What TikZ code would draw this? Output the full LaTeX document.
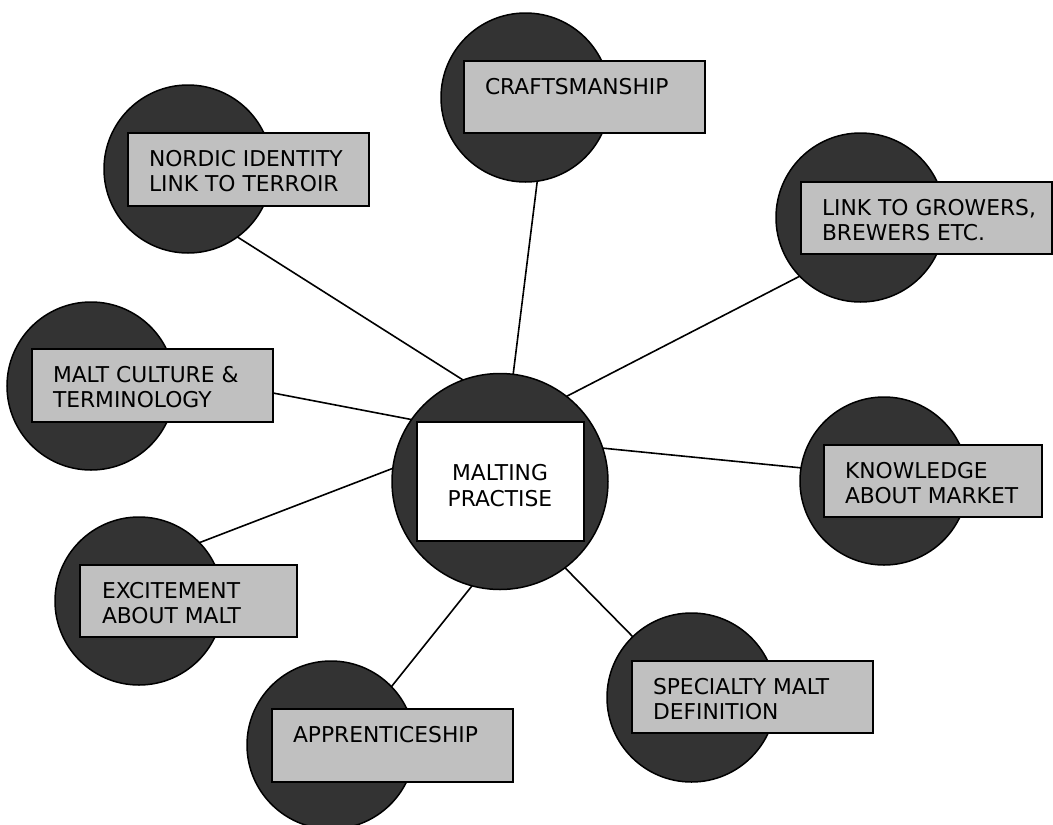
\documentclass[tikz,border=0pt]{standalone}
\usepackage{fontspec}
\setmainfont{DejaVu Sans}
\definecolor{discgray}{RGB}{51,51,51}
\definecolor{boxgray}{RGB}{192,192,192}
\begin{document}
\begin{tikzpicture}[x=1pt,y=-1pt,
  disc/.style={circle, draw=black, fill=discgray, line width=1.5pt, inner sep=0pt, outer sep=0pt, minimum size=#1},
  tagbox/.style={rectangle, draw=black, fill=boxgray, line width=1.5pt, inner sep=0pt, outer sep=0pt, anchor=north west},
  hubbox/.style={rectangle, draw=black, fill=white, line width=1.5pt, inner sep=0pt, outer sep=0pt, anchor=north west},
  tagtext/.style={anchor=north west, inner sep=0pt, outer sep=0pt, align=left, font=\fontsize{21.8}{25.5}\selectfont},
  hubtext/.style={anchor=center, inner sep=0pt, outer sep=0pt, align=center, font=\fontsize{21.8}{25.5}\selectfont},
  link/.style={draw=black, line width=1.6pt}]
\useasboundingbox (0,0) rectangle (1053,825);
% circles
\node[disc=216] (hub) at (500,481.5) {};
\node[disc=168] (nordic) at (188,169) {};
\node[disc=169] (craft) at (525.5,97.5) {};
\node[disc=169] (growers) at (860.5,217.5) {};
\node[disc=168] (culture) at (91,386) {};
\node[disc=168] (excite) at (139,601) {};
\node[disc=168] (appren) at (331,745) {};
\node[disc=169] (special) at (691.5,697.5) {};
\node[disc=168] (knowledge) at (884,481) {};
% boxes
\node[hubbox, minimum width=167pt, minimum height=119pt] (hubb) at (417,422) {};
\node[tagbox, minimum width=241pt, minimum height=73pt] (nordicbox) at (128,133) {};
\node[tagbox, minimum width=241pt, minimum height=72pt] (craftbox) at (464,61) {};
\node[tagbox, minimum width=251pt, minimum height=72pt] (growersbox) at (801,182) {};
\node[tagbox, minimum width=241pt, minimum height=73pt] (culturebox) at (32,349) {};
\node[tagbox, minimum width=217pt, minimum height=72pt] (excitebox) at (80,565) {};
\node[tagbox, minimum width=241pt, minimum height=73pt] (apprenbox) at (272,709) {};
\node[tagbox, minimum width=241pt, minimum height=72pt] (specialbox) at (632,661) {};
\node[tagbox, minimum width=218pt, minimum height=72pt] (knowledgebox) at (824,445) {};
% texts
\node[hubtext] (hubt) at (500,485.5) {MALTING\\PRACTISE};
\node[tagtext] (nordict) at ([shift={(21,17)}]nordicbox.north west) {NORDIC IDENTITY\\LINK TO TERROIR};
\node[tagtext] (craftt) at ([shift={(21,17)}]craftbox.north west) {CRAFTSMANSHIP};
\node[tagtext] (growerst) at ([shift={(21,17)}]growersbox.north west) {LINK TO GROWERS,\\BREWERS ETC.};
\node[tagtext] (culturet) at ([shift={(21,17)}]culturebox.north west) {MALT CULTURE \&\\TERMINOLOGY};
\node[tagtext] (excitet) at ([shift={(22,17)}]excitebox.north west) {EXCITEMENT\\ABOUT MALT};
\node[tagtext] (apprent) at ([shift={(21,17)}]apprenbox.north west) {APPRENTICESHIP};
\node[tagtext] (specialt) at ([shift={(21,17)}]specialbox.north west) {SPECIALTY MALT\\DEFINITION};
\node[tagtext] (knowledget) at ([shift={(21,17)}]knowledgebox.north west) {KNOWLEDGE\\ABOUT MARKET};
% connectors
\draw[link] (nordic.-54.1) -- (hub.110.5);
\draw[link] (craft.-82.2) -- (hub.83.2);
\draw[link] (growers.224.5) -- (hub.52.9);
\draw[link] (culturebox.east |- 273,393) -- (hub.145.2);
\draw[link] (excite.44) -- (hub.173.9);
\draw[link] (knowledge.171.9) -- (hub.18.5);
\draw[link] (appren.44.5) -- (hub.255.1);
\draw[link] (special.134) -- (hub.-53.4);
\end{tikzpicture}
\end{document}
